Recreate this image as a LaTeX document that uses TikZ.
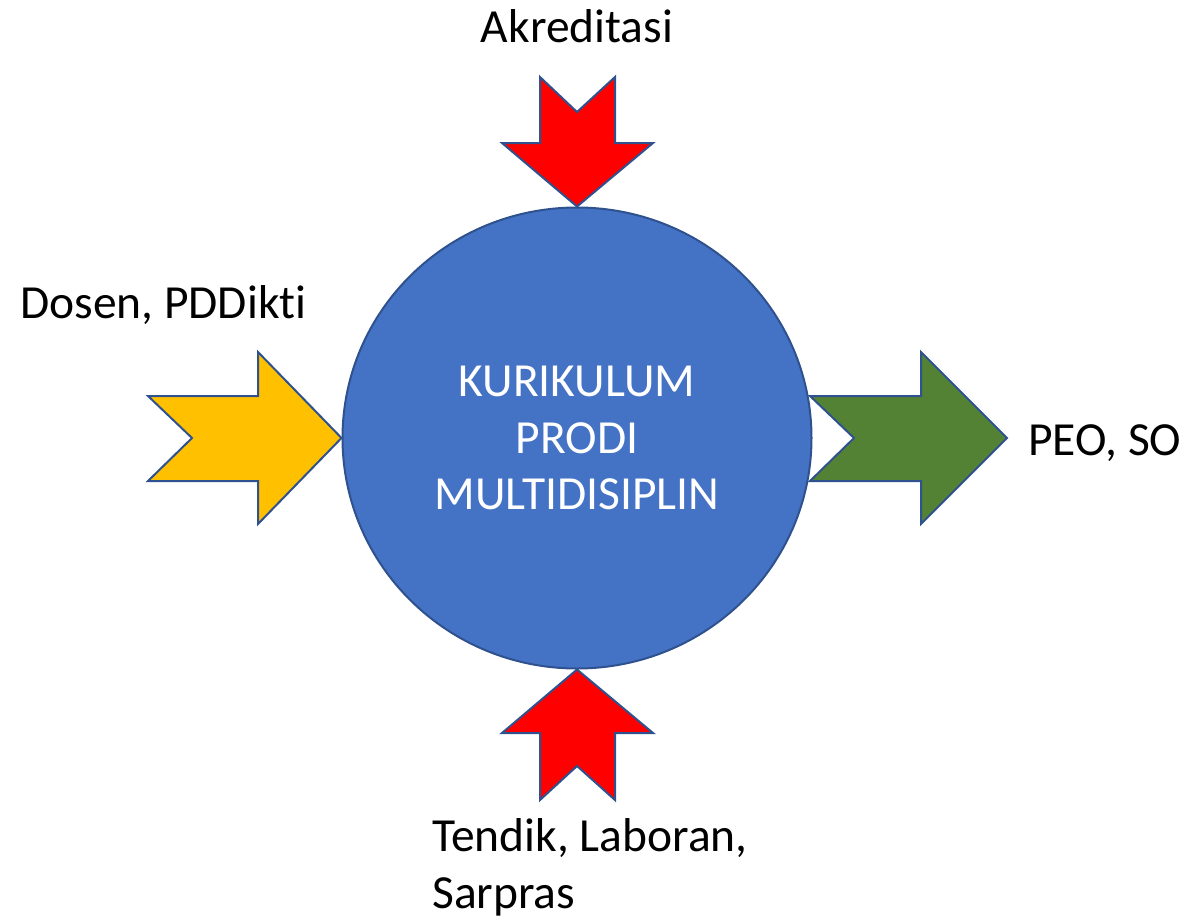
\documentclass[tikz,border=0pt]{standalone}
\usepackage{fontspec}
\setmainfont[Ligatures=NoCommon]{Carlito}
\usepackage{tikz}
\usetikzlibrary{positioning,shapes.geometric}
\definecolor{kurblue}{HTML}{4472C4}
\definecolor{edgeblue}{HTML}{2F528F}
\definecolor{inred}{HTML}{FF0000}
\definecolor{inyellow}{HTML}{FFC000}
\definecolor{outgreen}{HTML}{548235}

\begin{document}
\begin{tikzpicture}[x=1pt,y=-1pt,
    blk/.style={draw=edgeblue,line width=2pt},
    lbl/.style={font=\fontsize{47.5}{56.5}\selectfont,inner sep=0pt}]
        \useasboundingbox (0,0) rectangle (1196,918);
        \node[blk,ellipse,fill=kurblue,minimum width=469pt,minimum height=461pt,inner sep=0pt,
              text=white,align=center,lbl] (kurikulum) at (577,438) {KURIKULUM\\PRODI\\MULTIDISIPLIN};
        % arrows into and out of the circle
        \draw[blk,fill=inred] (540,77) -- (577,112) -- (615,77) -- (615,143) -- (653,143)
              -- (kurikulum.north) -- (502,143) -- (540,143) -- cycle;
        \draw[blk,fill=inred] (540,800) -- (577,766) -- (615,800) -- (615,733) -- (653,733)
              -- (kurikulum.south) -- (502,733) -- (540,733) -- cycle;
        \draw[blk,fill=inyellow] (148,396) -- (192,438) -- (148,481) -- (258,481) -- (258,524)
              -- (kurikulum.west) -- (258,352) -- (258,396) -- cycle;
        \draw[blk,fill=outgreen] (810,396) -- (854,438) -- (810,481) -- (921,481) -- (921,524)
              -- (1007,438) -- (921,352) -- (921,396) -- cycle;
        \node[lbl,anchor=base] (akred) at (577,42) {Akreditasi};
        \node[lbl,anchor=base west] (dosen) at (20,318) {Dosen, PDDikti};
        \node[lbl,anchor=base west] (peo) at (1028,455) {PEO, SO};
        \node[lbl,anchor=base west,align=left] (tendik) at (432,908) {Tendik, Laboran,\\Sarpras};
      \end{tikzpicture}
\end{document}
